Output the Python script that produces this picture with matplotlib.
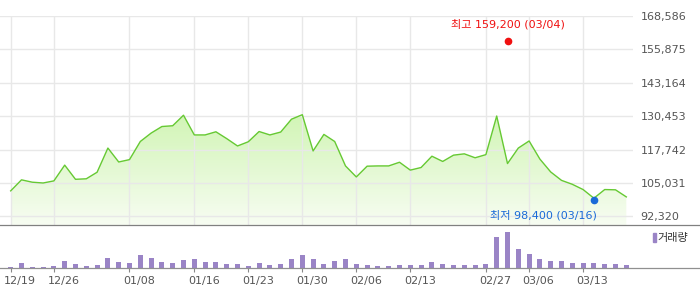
import numpy as np
import matplotlib.pyplot as plt
from matplotlib.patches import PathPatch, Rectangle
from matplotlib import transforms

plt.rcParams['font.family'] = ['DejaVu Sans', 'Noto Sans CJK KR']

# closing price per trading day (58 sessions)
price = [102000, 106200, 105300, 105000, 105800, 111800, 106400, 106600, 109100, 118300,
         113000, 113900, 120800, 124000, 126500, 126800, 130800, 123300, 123300, 124500,
         121900, 119100, 120700, 124600, 123300, 124400, 129300, 131000, 117200, 123500,
         120800, 111500, 107300, 111400, 111500, 111500, 112900, 109900, 110900, 115200,
         113200, 115600, 116100, 114600, 115800, 130500, 112400, 118300, 121000, 114100,
         109200, 106000, 104500, 102500, 99200, 102500, 102400, 99700]
# volume (relative units)
volume = [4, 16, 4, 4, 7, 22, 13, 7, 10, 31, 19, 16, 40, 31, 19, 16, 25, 28, 19, 19,
          13, 13, 7, 16, 10, 13, 28, 40, 28, 13, 22, 28, 13, 10, 7, 7, 10, 10, 10, 19,
          13, 10, 10, 10, 13, 94, 110, 58, 43, 28, 22, 22, 16, 16, 16, 13, 13, 10]

tick_idx = [0, 4, 11, 17, 22, 27, 32, 37, 44, 48, 53]
tick_labels = ['12/19', '12/26', '01/08', '01/16', '01/23', '01/30',
               '02/06', '02/13', '02/27', '03/06', '03/13']
yticks = [92320, 105031, 117742, 130453, 143164, 155875, 168586]

high_idx, high_val, high_date = 46, 159200, '03/04'
low_idx, low_val, low_date = 54, 98400, '03/16'

line_c = '#66c933'
bar_c = '#9a84c6'
grid_c = '#e8e8e8'

W, H = 700, 289
fig = plt.figure(figsize=(7, 2.89), dpi=100)

# price panel
ax = fig.add_axes([0, 1 - 225.3 / H, 633 / W, (225.3 - 16) / H])
x = np.arange(len(price))
ymin, ymax = 88888, 168586
ax.plot(x, price, color=line_c, lw=1.0, zorder=3)

poly = ax.fill_between(x, price, ymin, facecolor='none', edgecolor='none')
path = poly.get_paths()[0]
patch = PathPatch(path, transform=ax.transData, facecolor='none', edgecolor='none')
ax.add_patch(patch)
top = np.array([0.82, 0.96, 0.71, 1.0])
bot = np.array([0.97, 0.99, 0.95, 1.0])
t = np.linspace(0, 1, 256)[:, None]
grad = (bot + (top - bot) * t)[:, None, :]
im = ax.imshow(grad, extent=[x[0], x[-1], ymin, max(price)], origin='lower',
               aspect='auto', zorder=0.5)
im.set_clip_path(patch)

ax.set_xlim(-0.99, 57.62)
ax.set_ylim(ymin, ymax)
ax.set_yticks(yticks)
ax.set_yticklabels([f'{v:,}' for v in yticks])
ax.set_xticks(tick_idx)
ax.tick_params(axis='x', length=0, labelbottom=False)
ax.yaxis.tick_right()
ax.tick_params(axis='y', length=0, pad=5.5, labelsize=8, labelcolor='#555555')
ax.grid(True, color=grid_c, lw=1)
ax.set_axisbelow('line')
for s in ax.spines.values():
    s.set_visible(False)

# high / low markers
ax.plot(high_idx, high_val, 'o', color='#f01010', ms=4.5, zorder=4, clip_on=False)
ax.annotate(f'최고 {high_val:,} ({high_date})', (high_idx, high_val), xytext=(0, 12),
            textcoords='offset points', ha='center', va='center', fontsize=8,
            color='#f01010')
ax.plot(low_idx, low_val, 'o', color='#1a6ad8', ms=4.5, zorder=4, clip_on=False)
ax.annotate(f'최저 {low_val:,} ({low_date})', (low_idx, low_val), xytext=(2, -10.5),
            textcoords='offset points', ha='right', va='center', fontsize=8,
            color='#1a6ad8')

# volume panel
vx = fig.add_axes([0, 1 - 268.3 / H, 1, 43 / H])
vx.bar(x, volume, width=0.46, color=bar_c)
vx.set_xlim(-0.99, (700 - 10.7) / 10.8)
vx.set_ylim(0, 128.9)
vx.set_yticks([])
vx.set_xticks(tick_idx)
vx.set_xticklabels(tick_labels)
vx.tick_params(axis='x', length=3.1, width=0.8, color='#888888', pad=2.5,
               labelsize=8, labelcolor='#555555')
off = transforms.ScaledTranslation(9.5 / 100, 0, fig.dpi_scale_trans)
for lab in vx.get_xticklabels():
    lab.set_transform(lab.get_transform() + off)
for k in ['left', 'right']:
    vx.spines[k].set_visible(False)
vx.spines['top'].set_color('#808080')
vx.spines['bottom'].set_color('#909090')
vx.spines['top'].set_linewidth(0.9)
vx.spines['bottom'].set_linewidth(0.9)
vx.patch.set_alpha(0)

# volume legend
fig.add_artist(Rectangle((652.5 / W, 1 - 242 / H), 3 / W, 9 / H,
                         transform=fig.transFigure, color=bar_c))
fig.text(657 / W, 1 - 237.5 / H, '거래량', ha='left', va='center', fontsize=8,
         color='#333333')

fig.savefig('out.png', dpi=100)
